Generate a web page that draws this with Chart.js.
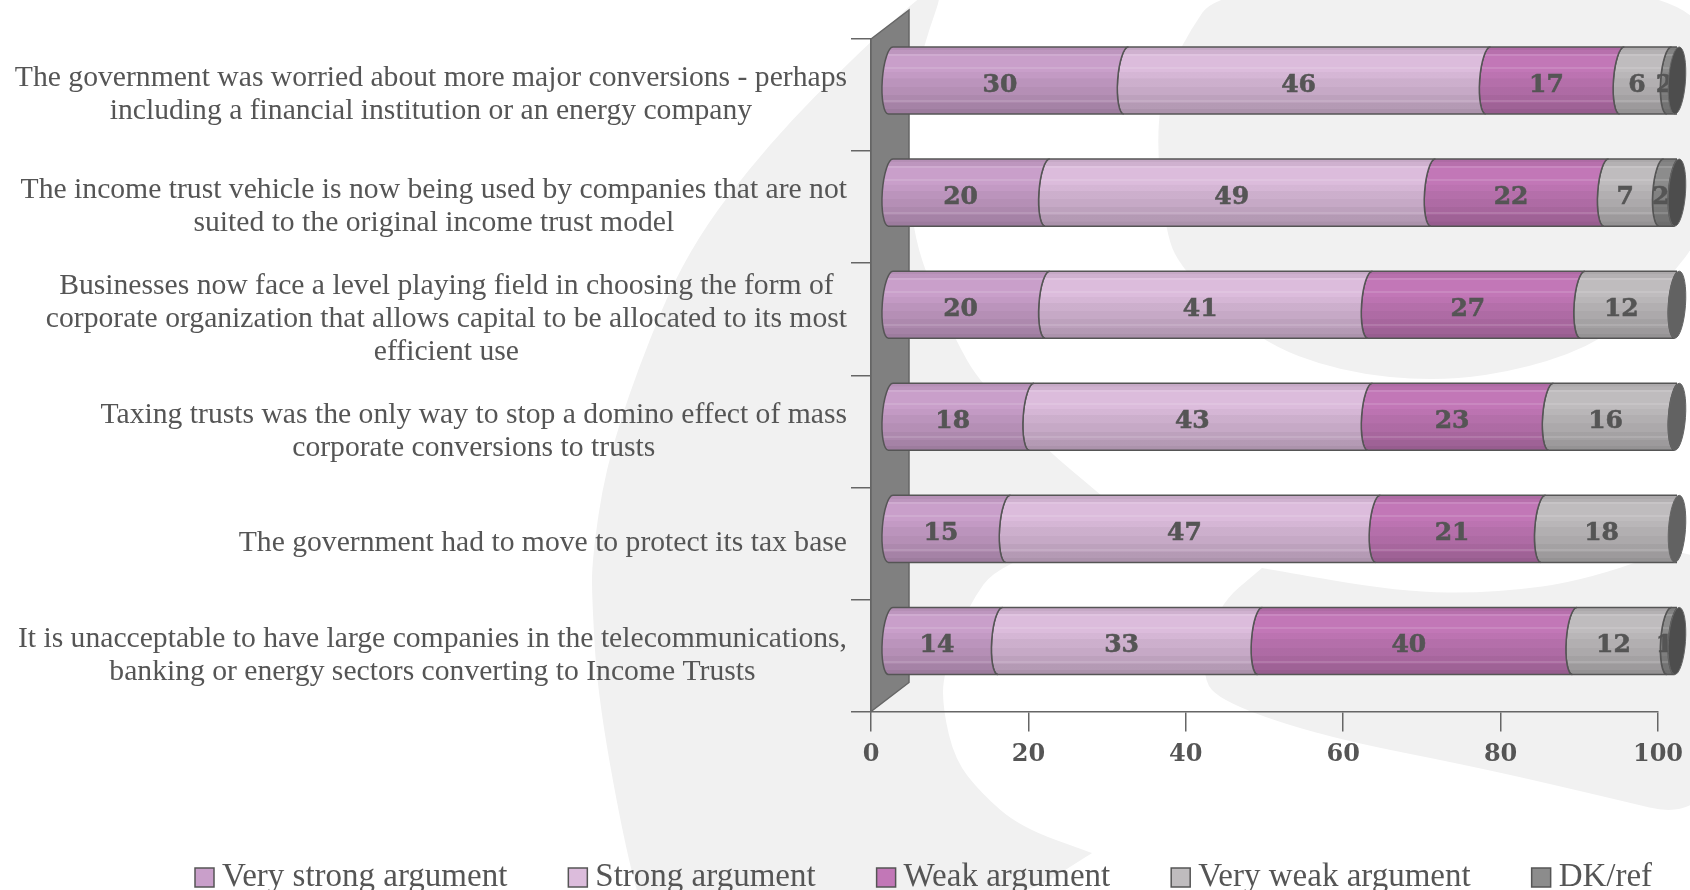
<!DOCTYPE html>
<html>
<head>
<meta charset="utf-8">
<title>Income trust arguments</title>
<script src="https://cdn.jsdelivr.net/npm/chart.js@4"></script>
<style>
    html, body { margin: 0; padding: 0; background: #fff; }
    canvas { display: block; }
</style>
</head>
<body>
<canvas id="trustChart" width="1690" height="890"></canvas>
<script>
// ==========================
// DATOS
// ==========================
const categories = [
    ["The government was worried about more major conversions - perhaps", "including a financial institution or an energy company"],
    ["The income trust vehicle is now being used by companies that are not", "suited to the original income trust model"],
    ["Businesses now face a level playing field in choosing the form of", "corporate organization that allows capital to be allocated to its most", "efficient use"],
    ["Taxing trusts was the only way to stop a domino effect of mass", "corporate conversions to trusts"],
    ["The government had to move to protect its tax base"],
    ["It is unacceptable to have large companies in the telecommunications,", "banking or energy sectors converting to Income Trusts"]
];
const veryStrong = [30, 20, 20, 18, 15, 14];
const strong     = [46, 49, 41, 43, 47, 33];
const weak       = [17, 22, 27, 23, 21, 40];
const veryWeak   = [6, 7, 12, 16, 18, 12];
const dkRef      = [2, 2, null, null, null, 1];
const axisTicks  = [0, 20, 40, 60, 80, 100];

// ==========================
// ESTILO
// ==========================
const TEXT = "#555555";
const LINE = "#666666";
const SERIF = "'Liberation Serif', serif";
const SLAB = "'DejaVu Serif', serif";
const DEPTH_X = 38;
const DEPTH_Y = -29;
const CURVE_RX = 8.5;
const CURVE_TILT = 0.07;
const LABEL_SIZE = 29.65;
const LEGEND_SIZE = 33;
const LABEL_LEADING = 33;
const LABEL_RIGHT = 847;

// bandas horizontales del cilindro (posicion, oscuridad)
const bands = [[0, .10], [.05, .06], [.1, 0], [.3, 0], [.38, .03], [.47, .07], [.6, .1], [.72, .14], [.84, .18], [.93, .22], [1, .26]];
const streaks = [.11, .3, .8];

// ==========================
// CILINDRO
// ==========================
class CylinderElement extends Chart.BarElement {
    static id = "cylinder";
    draw(ctx) {
        const {x, y, base, height} = this.getProps(["x", "y", "base", "height"]);
        if (!isFinite(x) || x === base) return;
        const ry = height / 2, top = y - ry, bottom = y + ry;

        const outline = new Path2D();
        outline.ellipse(x, y, CURVE_RX, ry, CURVE_TILT, 1.5 * Math.PI, 0.5 * Math.PI, true);
        outline.ellipse(base, y, CURVE_RX, ry, CURVE_TILT, 0.5 * Math.PI, 1.5 * Math.PI, false);
        outline.closePath();

        ctx.save();
        ctx.fillStyle = this.options.backgroundColor;
        ctx.fill(outline);

        const shade = ctx.createLinearGradient(0, top, 0, bottom);
        bands.forEach((b, i) => {
            shade.addColorStop(b[0], `rgba(0,0,0,${b[1]})`);
            if (i < bands.length - 1) shade.addColorStop(bands[i + 1][0] - 0.001, `rgba(0,0,0,${b[1]})`);
        });
        ctx.fillStyle = shade;
        ctx.fill(outline);

        ctx.save();
        ctx.clip(outline);
        ctx.strokeStyle = "rgba(255,255,255,0.25)";
        ctx.lineWidth = 1;
        streaks.forEach(s => {
            const sy = Math.round(top + s * height) + 0.5;
            ctx.beginPath();
            ctx.moveTo(base - CURVE_RX - 4, sy);
            ctx.lineTo(x, sy);
            ctx.stroke();
        });
        ctx.restore();

        ctx.strokeStyle = this.options.borderColor;
        ctx.lineWidth = 1.5;
        ctx.stroke(outline);
        ctx.restore();
    }
}

class CylinderController extends Chart.BarController {
    static id = "cylinderBar";
    static defaults = { dataElementType: "cylinder" };
}

Chart.register(CylinderElement, CylinderController);

// ==========================
// FONDO (marca de agua gris)
// ==========================
const watermark = [
    [[950,-30],[861,50],[769,143],[687,250],[637,370],[605,470],[592,560],[592,600],[598,700],[629,867],[650,930],
     [1010,905],[1092,853],[1092,853],[1020,827],[981,793],[955,760],[943,710],[943,674],[967,607],[1000,562],[1135,525],
     [1100,494],[1047,450],[980,383],[955,339],[925,272],[913,227],[905,160],[908,115],[922,50]],
    [[1225,-20],[1180,45],[1155,113],[1164,227],[1181,270],[1257,340],[1340,372],[1440,382],[1530,368],[1604,340],
     [1660,290],[1710,225],[1730,60],[1660,-20]],
    [[1262,568],[1262,568],[1400,592],[1495,593],[1589,580],[1710,535],[1730,680],[1710,822],[1589,793],[1476,767],[1325,737],[1224,703],
     [1200,677],[1216,607]]
];

const backgroundPlugin = {
    id: "backgroundPlugin",
    beforeDraw(chart) {
        const ctx = chart.ctx;
        ctx.save();
        ctx.fillStyle = "#f1f1f1";
        watermark.forEach(shape => {
            // curva suave por los puntos medios
            const n = shape.length;
            const mid = (a, b) => [(a[0] + b[0]) / 2, (a[1] + b[1]) / 2];
            const start = mid(shape[n - 1], shape[0]);
            ctx.beginPath();
            ctx.moveTo(start[0], start[1]);
            shape.forEach((p, i) => {
                const m = mid(p, shape[(i + 1) % n]);
                ctx.quadraticCurveTo(p[0], p[1], m[0], m[1]);
            });
            ctx.closePath();
            ctx.fill();
        });
        ctx.restore();
    }
};

// ==========================
// PARED 3D, ETIQUETAS, TAPAS
// ==========================
const depthPlugin = {
    id: "depthPlugin",
    beforeDatasetsDraw(chart) {
        const {left, top, bottom} = chart.chartArea, ctx = chart.ctx;
        ctx.save();
        ctx.beginPath();
        ctx.moveTo(left, top);
        ctx.lineTo(left + DEPTH_X, top + DEPTH_Y);
        ctx.lineTo(left + DEPTH_X, bottom + DEPTH_Y);
        ctx.lineTo(left, bottom);
        ctx.closePath();
        ctx.fillStyle = "#808080";
        ctx.fill();
        ctx.strokeStyle = LINE;
        ctx.lineWidth = 1.5;
        ctx.stroke();
        ctx.restore();
    },
    beforeDatasetDraw(chart) {
        chart.ctx.save();
        chart.ctx.translate(DEPTH_X / 2, DEPTH_Y / 2);
    },
    afterDatasetDraw(chart) {
        chart.ctx.restore();
    },
    afterDatasetsDraw(chart) {
        const ctx = chart.ctx, xScale = chart.scales.x, yScale = chart.scales.y;
        const end = xScale.getPixelForValue(100);
        ctx.save();
        ctx.translate(DEPTH_X / 2, DEPTH_Y / 2);

        // valores dentro de cada segmento
        ctx.font = `bold 25px ${SLAB}`;
        ctx.fillStyle = TEXT;
        ctx.strokeStyle = TEXT;
        ctx.lineWidth = 0.6;
        ctx.textAlign = "center";
        ctx.textBaseline = "middle";
        chart.data.datasets.forEach((ds, d) => {
            chart.getDatasetMeta(d).data.forEach((el, i) => {
                if (ds.data[i] == null) return;
                const mid = (el.base + Math.min(el.x, end)) / 2;
                ctx.fillText(String(ds.data[i]), mid - CURVE_RX, el.y + 4.5);
                ctx.strokeText(String(ds.data[i]), mid - CURVE_RX, el.y + 4.5);
            });
        });

        // tapa derecha del cilindro
        const ends = chart.getDatasetMeta(0).data;
        ends.forEach((el, i) => {
            ctx.beginPath();
            ctx.ellipse(end, el.y, CURVE_RX, el.height / 2, CURVE_TILT, 0, 2 * Math.PI);
            ctx.fillStyle = dkRef[i] == null ? "#626262" : "#4d4d4d";
            ctx.fill();
            ctx.strokeStyle = LINE;
            ctx.lineWidth = 1;
            ctx.stroke();
        });
        ctx.restore();

        // etiquetas de categoria: bloque a la derecha, lineas centradas
        ctx.save();
        ctx.font = `${LABEL_SIZE}px ${SERIF}`;
        ctx.fillStyle = TEXT;
        ctx.textAlign = "center";
        ctx.textBaseline = "middle";
        categories.forEach((lines, i) => {
            const widest = Math.max(...lines.map(l => ctx.measureText(l).width));
            const cx = LABEL_RIGHT - widest / 2;
            const cy = yScale.getPixelForValue(i) - (lines.length - 1) * LABEL_LEADING / 2;
            lines.forEach((line, n) => ctx.fillText(line, cx, cy + n * LABEL_LEADING));
        });
        ctx.restore();
    }
};

// ==========================
// GRAFICA
// ==========================
function serie(label, data, color) {
    return {
        label, data,
        backgroundColor: color,
        borderColor: "#555555",
        borderWidth: 1.5,
        clip: {left: 40, top: 40, right: 0, bottom: 40}
    };
}

new Chart(document.getElementById("trustChart"), {
    type: "cylinderBar",
    data: {
        labels: categories.map(lines => lines.join(" ")),
        datasets: [
            serie("Very strong argument", veryStrong, "#c99fca"),
            serie("Strong argument", strong, "#dcbcdc"),
            serie("Weak argument", weak, "#c277b7"),
            serie("Very weak argument", veryWeak, "#bfbcbe"),
            serie("DK/ref", dkRef, "#8c8c8c")
        ]
    },
    options: {
        indexAxis: "y",
        responsive: false,
        animation: false,
        events: [],
        categoryPercentage: 0.8,
        barPercentage: 0.75,
        layout: { padding: {left: 134, right: -40, top: 39, bottom: -14} },
        scales: {
            x: {
                stacked: true,
                min: 0,
                max: 100,
                afterBuildTicks(scale) { scale.ticks = axisTicks.map(v => ({value: v})); },
                afterFit(scale) { scale.height = 80; scale.paddingRight = 32; },
                grid: { drawOnChartArea: false, tickLength: 20, color: LINE, lineWidth: 1.5 },
                border: { color: LINE, width: 1.5 },
                ticks: { color: TEXT, padding: 9, font: {family: SLAB, size: 24, weight: "bold"}, maxRotation: 0 }
            },
            y: {
                stacked: true,
                afterFit(scale) { scale.width = 737; },
                grid: { drawOnChartArea: false, tickLength: 20, color: LINE, lineWidth: 1.5 },
                border: { color: LINE, width: 1.5 },
                ticks: { display: false }
            }
        },
        plugins: {
            tooltip: { enabled: false },
            legend: {
                position: "bottom",
                align: "start",
                labels: {
                    usePointStyle: true,
                    pointStyle: "rect",
                    boxWidth: 2,
                    boxHeight: 19,
                    padding: 69.5,
                    color: TEXT,
                    font: {family: SERIF, size: LEGEND_SIZE}
                }
            }
        }
    },
    plugins: [backgroundPlugin, depthPlugin]
});
</script>
</body>
</html>
